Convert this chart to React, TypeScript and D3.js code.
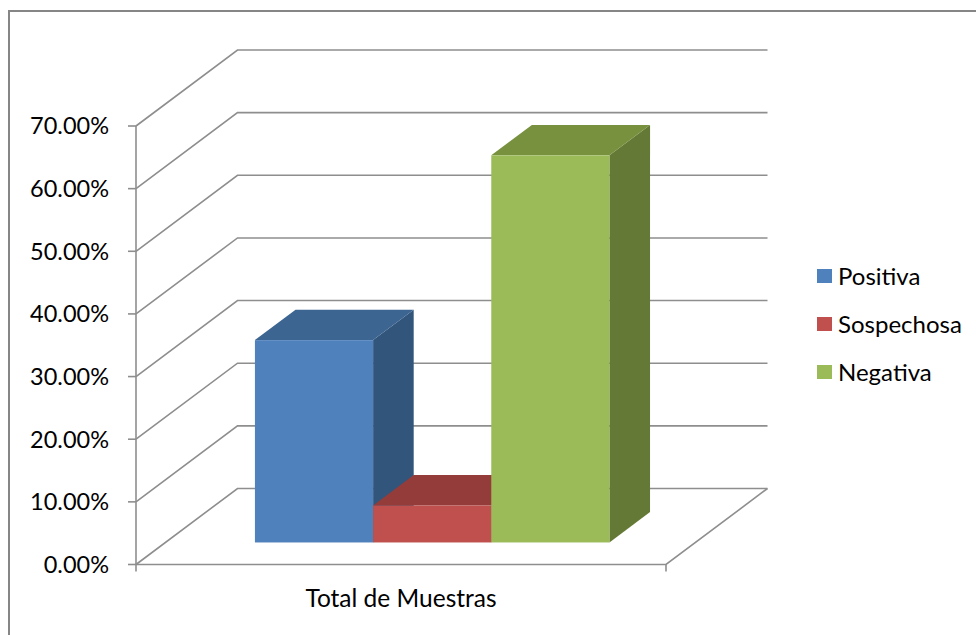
import React from "react";
import * as d3 from "d3";

const categories = ["Total de Muestras"];
const seriesNames = ["Positiva", "Sospechosa", "Negativa"];
const seriesValues = [32.3, 5.9, 61.8];
const yTicks = [0, 10, 20, 30, 40, 50, 60, 70];
const frontColors = ["#4F81BD", "#C0504D", "#9BBB59"];
const topColors = ["#3C6592", "#943C3A", "#77913F"];
const sideColors = ["#32557B", "#7E3331", "#647935"];

const W = 976;
const H = 635;
const FONT = "Lato, 'Open Sans', sans-serif";

export default function App() {
  // front plane geometry
  const x0 = 136, x1 = 666;
  const y = d3.scaleLinear().domain([0, 70]).range([564.5, 126]);
  const DX = 101.5, DY = -76; // full depth offset
  const d0 = 0.29, d1 = 0.69; // bar depth fractions

  const bandX = d3
    .scaleBand<string>()
    .domain(seriesNames)
    .range([x0 + d0 * DX + 89.5, x1 + d0 * DX - 86])
    .padding(0);

  const grid = "#8E8E8E";

  const pts = (arr: [number, number][]) => arr.map((p) => p.join(",")).join(" ");

  return (
    <svg width={W} height={H} style={{ position: "absolute", left: 0, top: 0 }} fontFamily={FONT}>
      <rect x={0} y={0} width={W} height={H} fill="#fff" />
      {/* outer border */}
      <path d={`M9,${H + 2} L9,11 L${W + 2},11`} fill="none" stroke="#868686" strokeWidth={2} />

      {/* gridlines: side wall diagonal + back wall */}
      {yTicks.map((t) => {
        const yf = y(t);
        return (
          <polyline
            key={"g" + t}
            points={pts([
              [x0, yf],
              [x0 + DX, yf + DY],
              [x1 + DX, yf + DY],
            ])}
            fill="none"
            stroke={grid}
            strokeWidth={1.6}
          />
        );
      })}
      {/* floor */}
      <polyline
        points={pts([
          [x0, y(0)],
          [x1, y(0)],
          [x1 + DX, y(0) + DY],
        ])}
        fill="none"
        stroke={grid}
        strokeWidth={1.6}
      />
      {/* vertical axis */}
      <line x1={x0} x2={x0} y1={y(70)} y2={y(0) + 7} stroke={grid} strokeWidth={1.6} />
      <line x1={x1} x2={x1} y1={y(0)} y2={y(0) + 7} stroke={grid} strokeWidth={1.6} />
      {yTicks.map((t) => (
        <g key={"t" + t}>
          <line x1={x0 - 8} x2={x0} y1={y(t)} y2={y(t)} stroke={grid} strokeWidth={1.6} />
          <text x={109} y={y(t)} dy="0.36em" textAnchor="end" fontSize={23.5} fill="#000">
            {t.toFixed(2) + "%"}
          </text>
        </g>
      ))}

      {/* bars */}
      {seriesNames.map((s, i) => {
        const v = seriesValues[i];
        const bx0 = bandX(s)!;
        const bx1 = bx0 + bandX.bandwidth();
        const yb = y(0) + d0 * DY;
        const yt = y(v) + d0 * DY;
        const ddx = (d1 - d0) * DX;
        const ddy = (d1 - d0) * DY;
        return (
          <g key={s}>
            <polygon
              points={pts([
                [bx1, yt],
                [bx1 + ddx, yt + ddy],
                [bx1 + ddx, yb + ddy],
                [bx1, yb],
              ])}
              fill={sideColors[i]}
            />
            <polygon
              points={pts([
                [bx0, yt],
                [bx0 + ddx, yt + ddy],
                [bx1 + ddx, yt + ddy],
                [bx1, yt],
              ])}
              fill={topColors[i]}
            />
            <rect x={bx0} y={yt} width={bx1 - bx0} height={yb - yt} fill={frontColors[i]} />
          </g>
        );
      })}

      {/* category label */}
      <text x={401} y={607} textAnchor="middle" fontSize={24.5} fill="#000">
        {categories[0]}
      </text>

      {/* legend */}
      {seriesNames.map((s, i) => (
        <g key={"l" + s} transform={`translate(817, ${276 + i * 48})`}>
          <rect x={0} y={-7} width={15} height={14} fill={frontColors[i]} />
          <text x={21} y={0} dy="0.36em" fontSize={24} fill="#000">
            {s}
          </text>
        </g>
      ))}
    </svg>
  );
}
